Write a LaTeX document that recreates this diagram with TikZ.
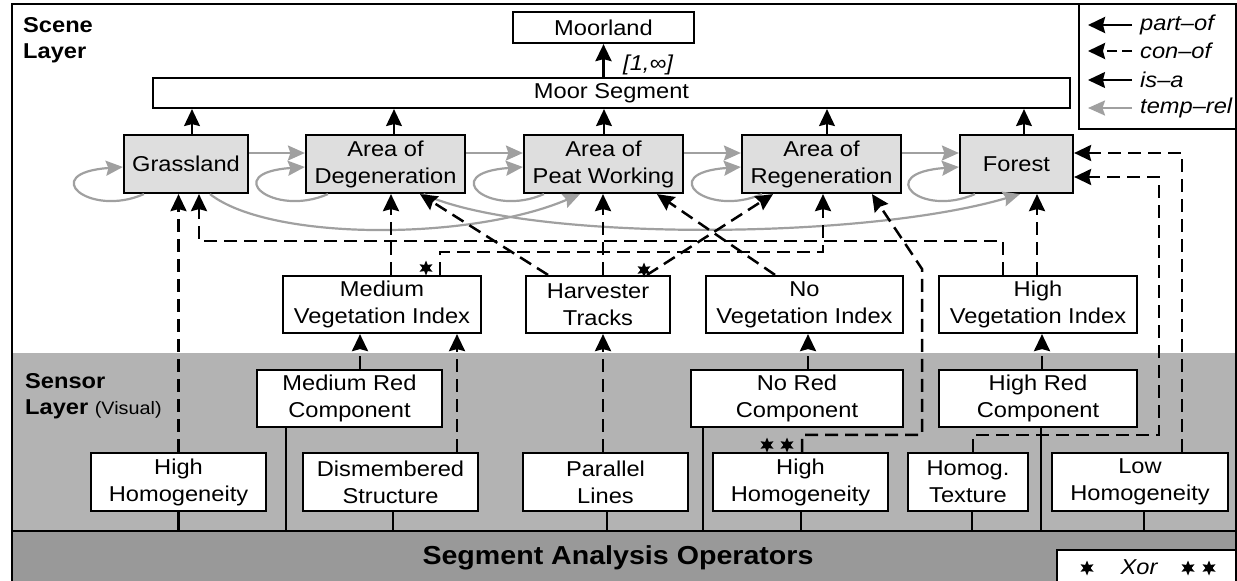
\documentclass[tikz,border=0pt]{standalone}
\usepackage{fontspec}
\setmainfont{Liberation Sans}[FakeStretch=1.1]
\usetikzlibrary{arrows.meta,calc,shapes.geometric}
\definecolor{scenefill}{HTML}{DEDEDE}
\definecolor{sensorbg}{HTML}{B3B3B3}
\definecolor{barbg}{HTML}{999999}
\definecolor{tempgray}{HTML}{A0A0A0}
\newcommand{\vconn}[3]{\draw[#1] let \p1=(#2), \p2=(#3) in (\p1) -- (\x1,\y2);}
\newcommand{\selfloop}[2]{\draw[temprel] ([xshift=#2]#1.south west) .. controls +(-55,24) and +(-86,6) .. ([yshift=-3pt]#1.west);}
\begin{document}
\begin{tikzpicture}[x=1pt,y=-1pt,
  every node/.style={font=\fontsize{21.5}{27}\selectfont},
  box/.style={draw,line width=2.2pt,fill=white,inner sep=0pt,align=center},
  scenebox/.style={box,fill=scenefill,minimum height=58pt},
  midbox/.style={box,minimum height=57pt},
  lowbox/.style={box,minimum height=58pt},
  tip/.style={-{Stealth[length=17pt,width=16pt,inset=2pt]}},
  isa/.style={tip,line width=1.4pt},
  partof/.style={tip,line width=2.8pt},
  conof/.style={tip,line width=2.5pt,dash pattern=on 13pt off 7pt},
  temprel/.style={tempgray,line width=2.2pt,-{Stealth[length=17pt,width=15pt,inset=2.5pt]}},
  opline/.style={line width=2.2pt},
  lbl/.style={font=\fontsize{21.5}{27}\selectfont\bfseries,anchor=base west,inner sep=0pt},
  legtext/.style={font=\fontsize{21.5}{27}\selectfont\itshape,anchor=west,inner sep=0pt},
  xorstar/.style={star,star points=6,star point ratio=2.1,minimum size=15pt,inner sep=0pt,fill=black},
]
\useasboundingbox (0,0) rectangle (1237,581);
% layer backgrounds
\fill[sensorbg] (12,353) rectangle (1237,531);
\fill[barbg] (12,531) rectangle (1237,590);
\draw[line width=2.4pt] (12,531) -- (1237,531);
\draw[line width=2.4pt] (12,590) -- (12,4) -- (1236,4) -- (1236,590);
\coordinate (bartop) at (0,531);

% layer labels
\node[lbl] (sc1) at (23,32) {Scene};
\node[lbl] (sc2) at (23,58) {Layer};
\node[lbl] (se1) at (25,388) {Sensor};
\node[lbl] (se2) at (25,414) {Layer {\mdseries\fontsize{18}{18}\selectfont(Visual)}};
\node[font=\fontsize{26}{30}\selectfont\bfseries] (sao) at (618,558) {Segment Analysis Operators};

% scene layer nodes
\node[box,minimum width=181pt,minimum height=31pt] (ml) at (603.5,27.5) {Moorland};
\node[box,minimum width=917pt,minimum height=30pt] (ms) at (611.5,93) {Moor Segment};
\node[scenebox,minimum width=124pt] (gr) at (186,164) {Grassland};
\node[scenebox,minimum width=159pt] (deg) at (385.5,164) {Area of\\Degeneration};
\node[scenebox,minimum width=159pt] (peat) at (603.5,164) {Area of\\Peat Working};
\node[scenebox,minimum width=159pt] (reg) at (821.5,164) {Area of\\Regeneration};
\node[scenebox,minimum width=113pt] (for) at (1016.5,164) {Forest};

% intermediate nodes
\node[midbox,minimum width=198pt] (mveg) at (382,304.5) {Medium\\Vegetation Index};
\node[midbox,minimum width=144pt] (harv) at (598,304.5) {Harvester\\Tracks};
\node[midbox,minimum width=197pt] (nveg) at (804.5,304.5) {No\\Vegetation Index};
\node[midbox,minimum width=198pt] (hveg) at (1038,304.5) {High\\Vegetation Index};

% sensor nodes
\node[midbox,minimum width=185pt] (mred) at (349.5,398.5) {Medium Red\\Component};
\node[midbox,minimum width=212pt] (nred) at (797,398.5) {No Red\\Component};
\node[midbox,minimum width=198pt] (hred) at (1038,398.5) {High Red\\Component};
\node[lowbox,minimum width=175pt] (hhl) at (178.5,482) {High\\Homogeneity};
\node[lowbox,minimum width=175pt] (dis) at (390.5,482) {Dismembered\\Structure};
\node[lowbox,minimum width=165pt] (par) at (605.5,482) {Parallel\\Lines};
\node[lowbox,minimum width=175pt] (hhr) at (800.5,482) {High\\Homogeneity};
\node[lowbox,minimum width=120pt] (hom) at (968,482) {Homog.\\Texture};
\node[lowbox,minimum width=176pt] (low) at (1140,482) {Low\\Homogeneity};

% part-of
\draw[partof] (ml.south |- ms.north) -- (ml.south);
\node[legtext] (card) at (623,65) {[1,∞]};

% is-a
\vconn{isa}{[xshift=6pt]gr.north}{ms.south}
\vconn{isa}{[xshift=8.5pt]deg.north}{ms.south}
\vconn{isa}{[xshift=0.5pt]peat.north}{ms.south}
\vconn{isa}{[xshift=5.5pt]reg.north}{ms.south}
\vconn{isa}{[xshift=7.5pt]for.north}{ms.south}

% temp-rel
\draw[temprel] ([yshift=11pt]gr.east) -- ([yshift=11pt]deg.west);
\draw[temprel] ([yshift=11pt]deg.east) -- ([yshift=11pt]peat.west);
\draw[temprel] ([yshift=11pt]peat.east) -- ([yshift=11pt]reg.west);
\draw[temprel] ([yshift=11pt]reg.east) -- ([yshift=11pt]for.west);
\selfloop{gr}{21pt}
\selfloop{deg}{23pt}
\selfloop{peat}{21pt}
\selfloop{reg}{21pt}
\selfloop{for}{16pt}
\draw[temprel] ([xshift=24pt]gr.south) .. controls +(60,47) and +(-110,47) .. ([xshift=-23.5pt]peat.south);
\draw[temprel] ([xshift=38pt]deg.south) .. controls +(100,47) and +(-160,47) .. ([xshift=3.5pt]for.south);

% con-of
\vconn{conof}{hhl.north}{gr.south}
\vconn{conof}{[xshift=10.5pt]mred.north}{mveg.south}
\vconn{conof}{[xshift=66.5pt]dis.north}{mveg.south}
\vconn{conof}{[xshift=-2.5pt]par.north}{harv.south}
\vconn{conof}{[xshift=11pt]nred.north}{nveg.south}
\vconn{conof}{[xshift=4pt]hred.north}{hveg.south}
\vconn{conof}{[xshift=9pt]mveg.north}{deg.south}
\vconn{conof}{[xshift=5pt]harv.north}{peat.south}
\vconn{conof}{[xshift=-1pt]hveg.north}{for.south}
\draw[conof] ([xshift=-35pt]hveg.north) -- ++(0,-34) -| ([xshift=13pt]gr.south);
\draw[conof] ([xshift=58pt]mveg.north) -- ++(0,-23) -| ([xshift=1.5pt]reg.south);
\draw[conof] ([xshift=-50pt]harv.north) -- ([xshift=34.5pt]deg.south);
\draw[conof] ([xshift=49pt]harv.north) -- ([xshift=-48.5pt]reg.south);
\draw[conof] ([xshift=-29.5pt]nveg.north) -- ([xshift=53.5pt]peat.south);
\draw[conof] ([xshift=1.5pt]hhr.north) -- ++(0,-17) -- ++(120,0) -- ++(0,-166) -- ([xshift=50.5pt]reg.south);
\draw[conof] ([xshift=5pt]hom.north) -- ++(0,-17) -- ++(186,0) |- ([yshift=-13pt]for.east);
\draw[conof] ([xshift=42pt]low.north) |- ([yshift=11pt]for.east);

% xor markers
\node[xorstar] (st1) at (426,268) {};
\node[xorstar] (st2) at (644,270) {};
\node[xorstar] (st3a) at (767,445) {};
\node[xorstar] (st3b) at (787,445) {};

% operator links
\vconn{opline}{hhl.south}{bartop}
\vconn{opline}{[xshift=-63.5pt]mred.south}{bartop}
\vconn{opline}{[xshift=2.5pt]dis.south}{bartop}
\vconn{opline}{[xshift=1.5pt]par.south}{bartop}
\vconn{opline}{[xshift=-94pt]nred.south}{bartop}
\vconn{opline}{[xshift=0.5pt]hhr.south}{bartop}
\vconn{opline}{[xshift=4pt]hom.south}{bartop}
\vconn{opline}{[xshift=3pt]hred.south}{bartop}
\vconn{opline}{[xshift=4pt]low.south}{bartop}

% legend
\draw[line width=2.2pt,fill=white] (1079,4) rectangle (1236,129);
\coordinate (l1a) at (1132,25);  \coordinate (l1b) at (1088,25);
\coordinate (l2a) at (1132,51);  \coordinate (l2b) at (1088,51);
\coordinate (l3a) at (1132,80);  \coordinate (l3b) at (1088,80);
\coordinate (l4a) at (1132,108); \coordinate (l4b) at (1088,108);
\draw[partof] (l1a) -- (l1b);
\draw[conof,dash pattern=on 10pt off 5pt] (l2a) -- (l2b);
\draw[isa] (l3a) -- (l3b);
\draw[temprel] (l4a) -- (l4b);
\node[legtext] (lt1) at (1140,25) {part–of};
\node[legtext] (lt2) at (1140,51) {con–of};
\node[legtext] (lt3) at (1140,80) {is–a};
\node[legtext] (lt4) at (1140,108) {temp–rel};

% xor legend
\draw[line width=2.2pt,fill=white] (1057,550) rectangle (1236,590);
\node[xorstar] (xs1) at (1087,568) {};
\node[legtext,anchor=center] (xor) at (1139,567) {Xor};
\node[xorstar] (xs2) at (1188,568) {};
\node[xorstar] (xs3) at (1209,568) {};
\end{tikzpicture}
\end{document}
